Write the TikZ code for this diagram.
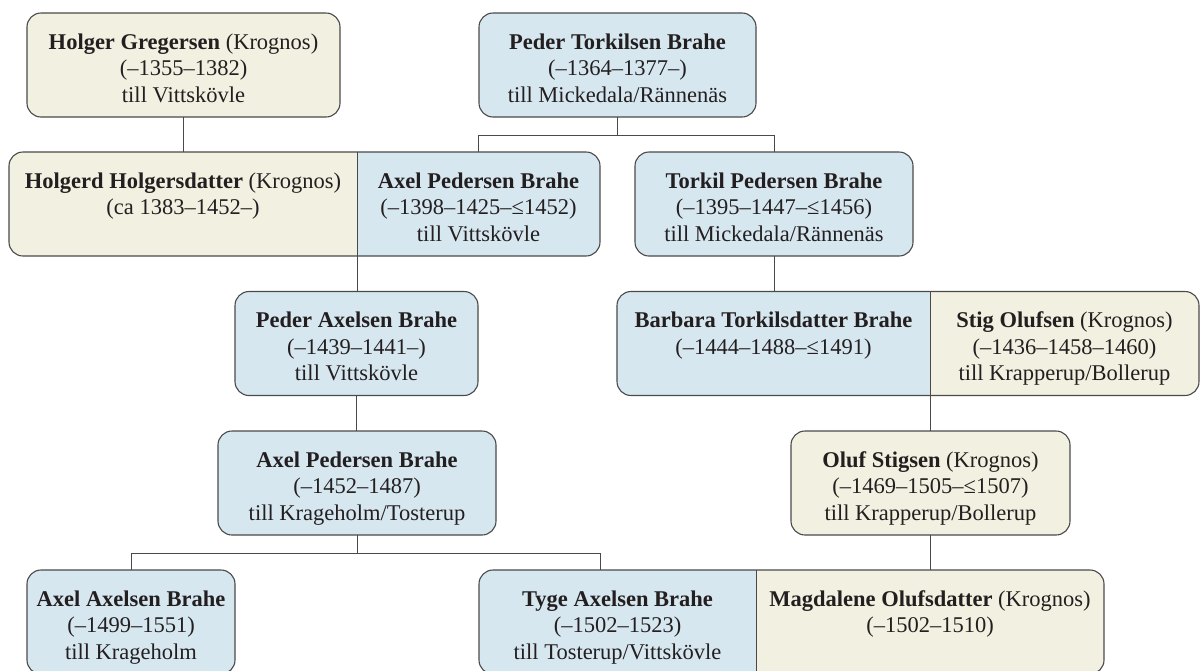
\documentclass[tikz,border=0pt]{standalone}
\usepackage{fontspec}
\setmainfont{Liberation Serif}
\definecolor{pblue}{HTML}{D7E7F0}
\definecolor{pbeige}{HTML}{F2F0E1}
\definecolor{edge}{HTML}{4A4A4A}
\definecolor{ink}{HTML}{231F20}
\tikzset{
  cell/.style={inner sep=0pt, outer sep=0pt, minimum height=104pt, anchor=north west},
  txt/.style={inner sep=0pt, align=center, anchor=north, text=ink,
    font=\fontsize{22.5}{26.5}\selectfont},
  frame/.style={draw=edge, line width=1.1pt, rounded corners=14pt},
  link/.style={draw=edge, line width=1pt},
}
\newcommand\fl{\rule{0pt}{20pt}}
\begin{document}
\begin{tikzpicture}[x=1pt,y=-1pt]
\clip (0,0) rectangle (1200,670);
\fill[white] (0,0) rectangle (1200,670);

% ---------- row 1 ----------
\node[cell, frame, fill=pbeige, minimum width=313pt] (holger) at (27,13) {};
\node[cell, frame, fill=pblue, minimum width=277pt] (peder1) at (479,13) {};

% ---------- row 2 ----------
\begin{scope}
  \clip[rounded corners=14pt] (9,152) rectangle (600,256);
  \node[cell, fill=pbeige, minimum width=348pt] (holgerd) at (9,152) {};
  \node[cell, fill=pblue, minimum width=243pt] (axel1) at (357,152) {};
\end{scope}
\draw[frame] (holgerd.north west) rectangle (axel1.south east);
\node[cell, frame, fill=pblue, minimum width=278pt] (torkil) at (635,152) {};

% ---------- row 3 ----------
\node[cell, frame, fill=pblue, minimum width=243pt] (peder2) at (235,291.5) {};
\begin{scope}
  \clip[rounded corners=14pt] (617,291.5) rectangle (1199,395.5);
  \node[cell, fill=pblue, minimum width=313pt] (barbara) at (617,291.5) {};
  \node[cell, fill=pbeige, minimum width=269pt] (stig) at (930,291.5) {};
\end{scope}
\draw[frame] (barbara.north west) rectangle (stig.south east);

% ---------- row 4 ----------
\node[cell, frame, fill=pblue, minimum width=278pt] (axel2) at (218,431) {};
\node[cell, frame, fill=pbeige, minimum width=279pt] (oluf) at (791,431) {};

% ---------- row 5 ----------
\node[cell, frame, fill=pblue, minimum width=208pt] (axel3) at (27,570) {};
\begin{scope}
  \clip[rounded corners=14pt] (479,570) rectangle (1104,674);
  \node[cell, fill=pblue, minimum width=277pt] (tyge) at (479,570) {};
  \node[cell, fill=pbeige, minimum width=348pt] (magdalene) at (756,570) {};
\end{scope}
\draw[frame] (tyge.north west) rectangle (magdalene.south east);

% ---------- dividers ----------
\draw[link] (holgerd.north east) -- (holgerd.south east);
\draw[link] (barbara.north east) -- (barbara.south east);
\draw[link] (tyge.north east) -- (tyge.south east);

% ---------- connectors ----------
\draw[link] (holger.south) -- (holger.south |- holgerd.north);
\draw[link] (peder1.south) -- ++(0,18) -| (axel1.north);
\draw[link] (peder1.south) -- ++(0,18) -| (torkil.north);
\draw[link] (holgerd.south east) -- (holgerd.south east |- peder2.north);
\draw[link] (torkil.south) -- (torkil.south |- barbara.north);
\draw[link] (barbara.south east) -- (barbara.south east |- oluf.north);
\draw[link] (peder2.south) -- (peder2.south |- axel2.north);
\draw[link] (oluf.south) -- (oluf.south |- magdalene.north);
\coordinate (tygelink) at ([xshift=121pt]tyge.north west);
\draw[link] (axel2.south) -- ++(0,18) -| (axel3.north);
\draw[link] (axel2.south) -- ++(0,18) -| (tygelink);

% ---------- texts ----------
\node[txt] (holger-t) at ([yshift=-16pt]holger.north)
  {\fl\textbf{Holger Gregersen} (Krognos)\\(–1355–1382)\\till Vittskövle};
\node[txt] (peder1-t) at ([yshift=-16pt]peder1.north)
  {\fl\textbf{Peder Torkilsen Brahe}\\(–1364–1377–)\\till Mickedala/Rännenäs};
\node[txt] (holgerd-t) at ([yshift=-16pt]holgerd.north)
  {\fl\textbf{Holgerd Holgersdatter} (Krognos)\\(ca 1383–1452–)};
\node[txt] (axel1-t) at ([yshift=-16pt]axel1.north)
  {\fl\textbf{Axel Pedersen Brahe}\\(–1398–1425–≤1452)\\till Vittskövle};
\node[txt] (torkil-t) at ([yshift=-16pt]torkil.north)
  {\fl\textbf{Torkil Pedersen Brahe}\\(–1395–1447–≤1456)\\till Mickedala/Rännenäs};
\node[txt] (peder2-t) at ([yshift=-16pt]peder2.north)
  {\fl\textbf{Peder Axelsen Brahe}\\(–1439–1441–)\\till Vittskövle};
\node[txt] (barbara-t) at ([yshift=-16pt]barbara.north)
  {\fl\textbf{Barbara Torkilsdatter Brahe}\\(–1444–1488–≤1491)};
\node[txt] (stig-t) at ([yshift=-16pt]stig.north)
  {\fl\textbf{Stig Olufsen} (Krognos)\\(–1436–1458–1460)\\till Krapperup/Bollerup};
\node[txt] (axel2-t) at ([yshift=-16pt]axel2.north)
  {\fl\textbf{Axel Pedersen Brahe}\\(–1452–1487)\\till Krageholm/Tosterup};
\node[txt] (oluf-t) at ([yshift=-16pt]oluf.north)
  {\fl\textbf{Oluf Stigsen} (Krognos)\\(–1469–1505–≤1507)\\till Krapperup/Bollerup};
\node[txt] (axel3-t) at ([yshift=-16pt]axel3.north)
  {\fl\textbf{Axel Axelsen Brahe}\\(–1499–1551)\\till Krageholm};
\node[txt] (tyge-t) at ([yshift=-16pt]tyge.north)
  {\fl\textbf{Tyge Axelsen Brahe}\\(–1502–1523)\\till Tosterup/Vittskövle};
\node[txt] (magdalene-t) at ([yshift=-16pt]magdalene.north)
  {\fl\textbf{Magdalene Olufsdatter} (Krognos)\\(–1502–1510)};
\end{tikzpicture}
\end{document}
